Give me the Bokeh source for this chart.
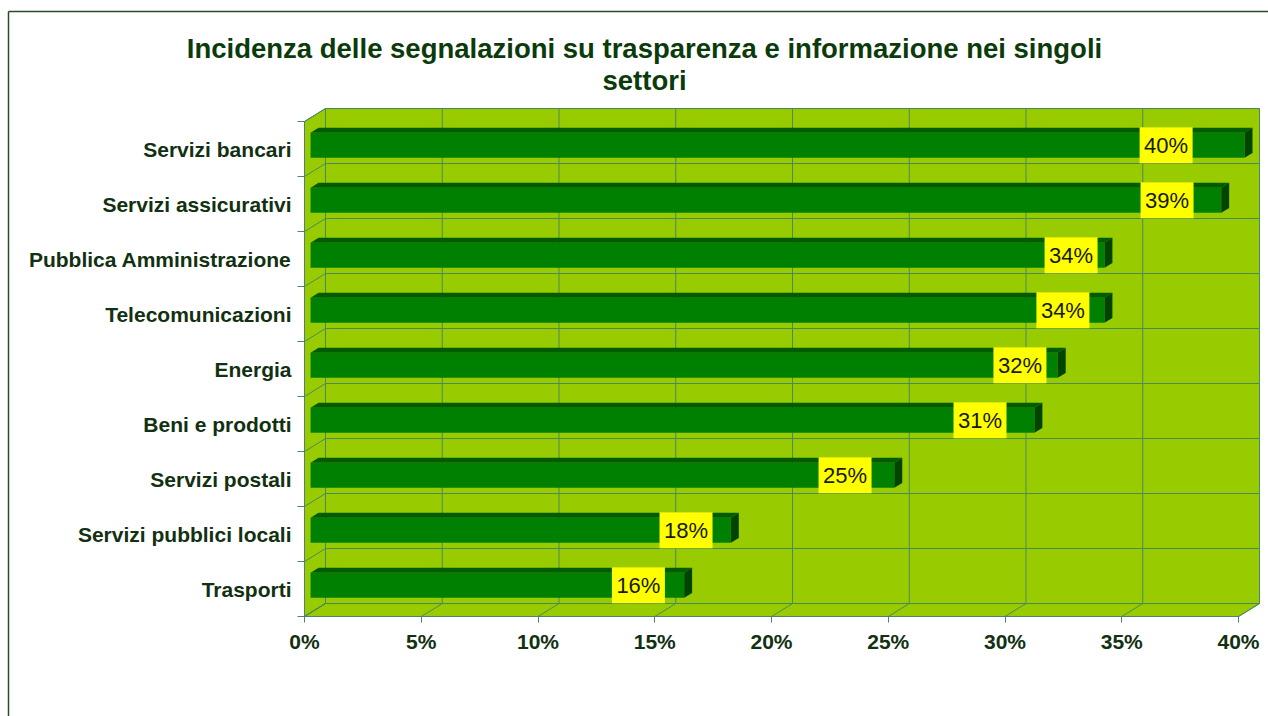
from bokeh.plotting import figure
from bokeh.models import ColumnDataSource, FixedTicker, Range1d
from bokeh.core.properties import value
from bokeh.embed import file_html
from bokeh.resources import INLINE

# ---------------- data ----------------
title_lines = ["Incidenza delle segnalazioni su trasparenza e informazione nei singoli",
               "settori"]
categories = ["Servizi bancari", "Servizi assicurativi", "Pubblica Amministrazione",
              "Telecomunicazioni", "Energia", "Beni e prodotti", "Servizi postali",
              "Servizi pubblici locali", "Trasporti"]
values = [40, 39, 34, 34, 32, 31, 25, 18, 16]
value_labels = ["40%", "39%", "34%", "34%", "32%", "31%", "25%", "18%", "16%"]
x_ticks = [0, 5, 10, 15, 20, 25, 30, 35, 40]
x_tick_labels = ["0%", "5%", "10%", "15%", "20%", "25%", "30%", "35%", "40%"]
# where the (manually placed) value boxes sit along the value axis
label_pos = [36.9, 36.94, 32.83, 32.48, 30.64, 28.93, 23.15, 16.34, 14.3]

# ---------------- geometry / style ----------------
W, H = 1268, 716
X0PX, Y0PX = 304, 616        # pixel position of the front-bottom-left corner
PXX, PXY = 23.35, 55.0       # pixels per percent / per category
N = len(categories)
XMAX = 40
DX, DY = 0.9, 0.236          # depth of the 3D box (data units)
BFX, BFY = 0.26, 0.067       # bar front face offset inside the box
BDX, BDY = 0.34, 0.09        # bar depth
BH = 0.455                   # bar height
WALL = "#99cc00"
GRID = "#4a8a5e"
AXIS = "#557f6f"
BAR_FRONT = "#008000"
BAR_TOP = "#005c00"
BAR_END = "#004400"
TXT = "#123012"
FONT = "Liberation Sans"


def dx_(px):
    return (px - X0PX) / PXX


def dy_(py):
    return (Y0PX - py) / PXY


p = figure(width=W, height=H, output_backend="svg", toolbar_location=None,
           x_range=Range1d(dx_(0), dx_(W)), y_range=Range1d(dy_(H), dy_(0)),
           min_border=0)
p.outline_line_color = None
p.grid.visible = False
p.background_fill_color = "white"
p.border_fill_color = "white"

# outer chart border (top and left edges visible)
p.segment(x0=[dx_(8), dx_(8)], y0=[dy_(11), dy_(11)], x1=[dx_(W + 5), dx_(8)],
          y1=[dy_(11), dy_(H + 5)], line_color="#2b4a2b", line_width=1.5)

# walls
p.quad(left=[DX], right=[XMAX + DX], bottom=[DY], top=[N + DY],
       fill_color=WALL, line_color=GRID, line_width=1)
p.patch([0, 0, DX, DX], [0, N, N + DY, DY], fill_color=WALL, line_color=GRID, line_width=1)
p.patch([0, XMAX, XMAX + DX, DX], [0, 0, DY, DY], fill_color=WALL, line_color=GRID, line_width=1)

# gridlines on back wall, floor, side wall
p.segment(x0=[t + DX for t in x_ticks], y0=[DY] * len(x_ticks),
          x1=[t + DX for t in x_ticks], y1=[N + DY] * len(x_ticks),
          line_color=GRID, line_width=1)
p.segment(x0=[DX] * (N + 1), y0=[k + DY for k in range(N + 1)],
          x1=[XMAX + DX] * (N + 1), y1=[k + DY for k in range(N + 1)],
          line_color=GRID, line_width=1)
p.segment(x0=x_ticks, y0=[0] * len(x_ticks),
          x1=[t + DX for t in x_ticks], y1=[DY] * len(x_ticks),
          line_color=GRID, line_width=1)
p.segment(x0=[0] * (N + 1), y0=list(range(N + 1)),
          x1=[DX] * (N + 1), y1=[k + DY for k in range(N + 1)],
          line_color=GRID, line_width=1)

# bars
centers = [N - i - 0.5 + BFY for i in range(N)]
bottoms = [c - BH / 2 for c in centers]
tops = [c + BH / 2 for c in centers]
ends = [v + BFX for v in values]

src = ColumnDataSource(dict(left=[BFX] * N, right=ends, bottom=bottoms, top=tops))
p.quad(left="left", right="right", bottom="bottom", top="top", source=src,
       fill_color=BAR_FRONT, line_color=None)
p.patches(xs=[[BFX, e, e + BDX, BFX + BDX] for e in ends],
          ys=[[t, t, t + BDY, t + BDY] for t in tops],
          fill_color=BAR_TOP, line_color=None)
p.patches(xs=[[e, e, e + BDX, e + BDX] for e in ends],
          ys=[[b, t, t + BDY, b + BDY] for b, t in zip(bottoms, tops)],
          fill_color=BAR_END, line_color=None)

# value boxes
lab_src = ColumnDataSource(dict(x=label_pos, y=centers, text=value_labels))
p.rect(x="x", y="y", width=53 / PXX, height=36 / PXY, source=lab_src,
       fill_color="#ffff00", line_color=None)
p.text(x="x", y="y", text="text", source=lab_src, text_align="center",
       text_baseline="middle", text_font=value(FONT), text_font_size="22px",
       text_color="#161a10")

# axes (fixed at the front edges of the 3D box)
xa = p.xaxis[0]
xa.fixed_location = 0
xa.ticker = FixedTicker(ticks=x_ticks)
xa.major_label_overrides = {t: l for t, l in zip(x_ticks, x_tick_labels)}
xa.bounds = (0, XMAX)
xa.axis_line_color = AXIS
xa.major_tick_line_color = AXIS
xa.major_tick_out = 6
xa.major_tick_in = 0
xa.minor_tick_line_color = None
xa.major_label_standoff = 7
xa.major_label_text_font = FONT
xa.major_label_text_font_style = "bold"
xa.major_label_text_font_size = "21px"
xa.major_label_text_color = TXT

ya = p.yaxis[0]
ya.fixed_location = 0
cat_centers = [N - i - 0.5 for i in range(N)]
ya.ticker = FixedTicker(ticks=cat_centers, minor_ticks=list(range(N + 1)))
ya.major_label_overrides = {c: name for c, name in zip(cat_centers, categories)}
ya.bounds = (0, N)
ya.axis_line_color = AXIS
ya.major_tick_line_color = None
ya.major_tick_out = 0
ya.major_tick_in = 0
ya.minor_tick_line_color = AXIS
ya.minor_tick_out = 7
ya.minor_tick_in = 0
ya.major_label_standoff = 6
ya.major_label_text_font = FONT
ya.major_label_text_font_style = "bold"
ya.major_label_text_font_size = "21px"
ya.major_label_text_color = TXT

# title
p.text(x=[dx_(644)] * 2, y=[dy_(48), dy_(80)], text=title_lines,
       text_align="center", text_baseline="middle", text_font=value(FONT),
       text_font_style="bold", text_font_size="27.5px", text_color="#0b3a0b")

open("out.html", "w").write(file_html(p, INLINE))
